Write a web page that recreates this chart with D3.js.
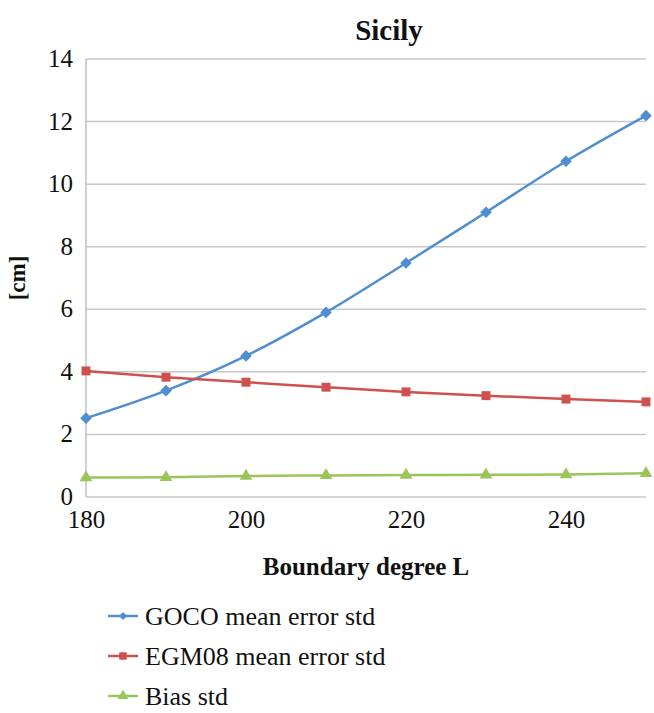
<!DOCTYPE html>
<html>
<head>
<meta charset="utf-8">
<script src="https://cdn.jsdelivr.net/npm/d3@7"></script>
</head>
<body style="margin:0">
<svg width="654" height="713"></svg>
<script>
var degrees = [180, 190, 200, 210, 220, 230, 240, 250];
var gocoStd = [2.52, 3.40, 4.51, 5.90, 7.48, 9.10, 10.73, 12.19];
var egmStd = [4.03, 3.83, 3.67, 3.51, 3.36, 3.24, 3.13, 3.04];
var biasStd = [0.62, 0.63, 0.67, 0.69, 0.70, 0.71, 0.72, 0.76];
var xTicks = [180, 200, 220, 240];
var yTicks = [0, 2, 4, 6, 8, 10, 12, 14];

var serif = "Liberation Serif";

var series = [
  { name: "GOCO mean error std", values: gocoStd, color: "#4f8ed0", symbol: d3.symbolSquare, size: 45, rot: 45 },
  { name: "EGM08 mean error std", values: egmStd, color: "#d0504d", symbol: d3.symbolSquare, size: 80, rot: 0 },
  { name: "Bias std", values: biasStd, color: "#9bc45a", symbol: d3.symbolTriangle, size: 70, rot: 0 }
];

var svg = d3.select("svg");
var margin = { top: 59, left: 86 };

var x = d3.scaleLinear().domain([180, 250]).range([0, 560]);
var y = d3.scaleLinear().domain([0, 14]).range([438, 0]);

var g = svg.append("g")
    .attr("transform", "translate(" + margin.left + "," + margin.top + ")");

// grid lines
g.append("g")
    .selectAll("line")
    .data(yTicks)
    .enter().append("line")
    .attr("x1", 0)
    .attr("x2", x(250))
    .attr("y1", function (d) { return y(d); })
    .attr("y2", function (d) { return y(d); })
    .attr("stroke", "#c8c8c8")
    .attr("stroke-width", 1.5);

g.append("line")
    .attr("x1", 0).attr("x2", 0)
    .attr("y1", 0).attr("y2", y(0))
    .attr("stroke", "#c0c0c0")
    .attr("stroke-width", 1.5);

function label(sel) {
    return sel.attr("font-family", serif)
        .style("font-family", serif, "important")
        .style("fill", "#111");
}

// y axis labels
var yAxis = g.append("g")
    .call(d3.axisLeft(y).tickValues(yTicks).tickSize(0).tickPadding(13));
yAxis.attr("font-family", serif);
yAxis.select(".domain").remove();
label(yAxis.selectAll("text"))
    .style("font-size", "25px")
    .attr("dy", "0.3em");

// x axis labels
var xAxis = g.append("g")
    .attr("transform", "translate(0," + y(0) + ")")
    .call(d3.axisBottom(x).tickValues(xTicks).tickSize(0).tickPadding(13));
xAxis.attr("font-family", serif);
xAxis.select(".domain").remove();
label(xAxis.selectAll("text"))
    .style("font-size", "25px");

// lines
var line = d3.line()
    .x(function (d, i) { return x(degrees[i]); })
    .y(function (d) { return y(d); })
    .curve(d3.curveMonotoneX);

series.forEach(function (s) {
    g.append("path")
        .datum(s.values)
        .attr("fill", "none")
        .attr("stroke", s.color)
        .attr("stroke-width", 2.5)
        .attr("d", line);
    g.selectAll(null)
        .data(s.values)
        .enter().append("path")
        .attr("d", d3.symbol().type(s.symbol).size(s.size))
        .attr("fill", s.color)
        .attr("stroke", s.color)
        .attr("stroke-width", s.rot ? 1.5 : 0)
        .attr("transform", function (d, i) {
            return "translate(" + x(degrees[i]) + "," + y(d) + ") rotate(" + s.rot + ")";
        });
});

// titles
label(svg.append("text"))
    .attr("x", 389)
    .attr("y", 40)
    .attr("text-anchor", "middle")
    .style("font-size", "29px")
    .style("font-weight", "bold")
    .text("Sicily");

label(svg.append("text"))
    .attr("transform", "translate(25,278) rotate(-90)")
    .attr("text-anchor", "middle")
    .style("font-size", "23px")
    .style("font-weight", "bold")
    .text("[cm]");

label(svg.append("text"))
    .attr("x", 366)
    .attr("y", 575)
    .attr("text-anchor", "middle")
    .style("font-size", "25px")
    .style("font-weight", "bold")
    .text("Boundary degree L");

// legend
var legend = svg.append("g").attr("transform", "translate(108,616)");
series.forEach(function (s, i) {
    var row = legend.append("g").attr("transform", "translate(0," + (i * 40) + ")");
    row.append("line")
        .attr("x1", 0).attr("x2", 30)
        .attr("stroke", s.color)
        .attr("stroke-width", 2.5);
    row.append("path")
        .attr("d", d3.symbol().type(s.symbol).size(s.size * 0.7))
        .attr("fill", s.color)
        .attr("transform", "translate(15,0) rotate(" + s.rot + ")");
    label(row.append("text"))
        .attr("x", 37)
        .attr("dy", "0.35em")
        .style("font-size", "26px")
        .text(s.name);
});
</script>
</body>
</html>
